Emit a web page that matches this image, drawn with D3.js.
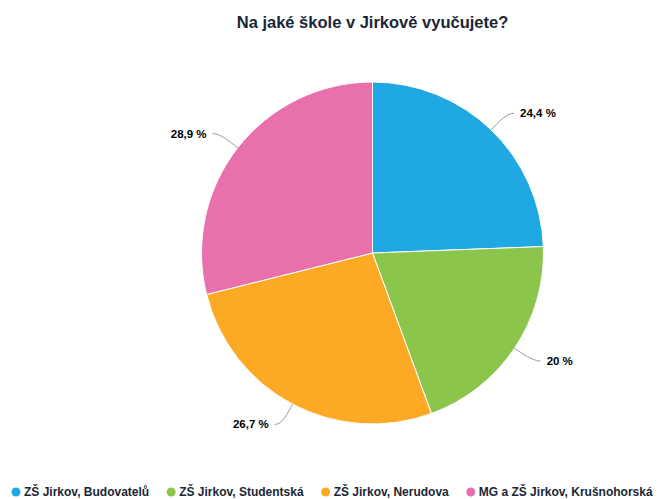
<!DOCTYPE html>
<html>
<head>
<meta charset="utf-8">
<script src="https://cdn.jsdelivr.net/npm/d3@7/dist/d3.min.js"></script>
<style>
  html, body { margin: 0; padding: 0; background: #fff; }
  svg { display: block; }
</style>
</head>
<body>
<svg id="chart" width="670" height="499"></svg>
<script>
const title = "Na jaké škole v Jirkově vyučujete?";
const categories = ["ZŠ Jirkov, Budovatelů", "ZŠ Jirkov, Studentská", "ZŠ Jirkov, Nerudova", "MG a ZŠ Jirkov, Krušnohorská"];
const values = [24.4, 20, 26.7, 28.9];
const labels = ["24,4 %", "20 %", "26,7 %", "28,9 %"];
const colors = ["#1fa8e1", "#8bc54b", "#fcaa25", "#e770ad"];

const svg = d3.select("#chart");
const cx = 372.5, cy = 253, R = 171;
const labelR = 194, labelPad = 13;

svg.append("text")
  .attr("x", cx).attr("y", 28)
  .attr("text-anchor", "middle")
  .style("font-family", "'Liberation Sans', Arial, sans-serif")
  .style("font-weight", "bold")
  .style("font-size", "16.5px")
  .style("fill", "#1a2636")
  .text(title);

const pie = d3.pie().sort(null).value(d => d)(values);
const arc = d3.arc().innerRadius(0).outerRadius(R);

const g = svg.append("g").attr("transform", `translate(${cx},${cy})`);

g.selectAll("path.slice").data(pie).join("path")
  .attr("class", "slice")
  .attr("d", arc)
  .attr("fill", (d, i) => colors[i])
  .attr("stroke", "#fff")
  .attr("stroke-width", 1);

// data labels with soft connectors
pie.forEach((d, i) => {
  const a = (d.startAngle + d.endAngle) / 2;
  const ex = R * Math.sin(a), ey = -R * Math.cos(a);
  const right = Math.sin(a) >= 0;
  const side = right ? 1 : -1;
  const ly = -labelR * Math.cos(a);
  const lxBase = side * Math.sqrt(Math.max(0, labelR * labelR - ly * ly));
  const lx = lxBase + side * labelPad;
  const anchorX = lx - side * 6;
  const ox = (R + 10) * Math.sin(a), oy = -(R + 10) * Math.cos(a);
  g.append("path")
    .attr("d", `M${anchorX},${ly} C${anchorX - side * 8},${ly} ${ox},${oy} ${ex},${ey}`)
    .attr("fill", "none")
    .attr("stroke", "#9a9a9a")
    .attr("stroke-width", 1);
  g.append("text")
    .attr("x", lx).attr("y", ly)
    .attr("dy", "0.35em")
    .attr("text-anchor", right ? "start" : "end")
    .style("font-family", "'Liberation Sans', Arial, sans-serif")
    .style("font-weight", "bold")
    .style("font-size", "11.5px")
    .style("fill", "#000")
    .text(labels[i]);
});

// legend
const legend = svg.append("g").attr("transform", "translate(0,492)");
let x = 16;
categories.forEach((c, i) => {
  const item = legend.append("g");
  item.append("circle").attr("cx", x).attr("cy", 0).attr("r", 4.5).attr("fill", colors[i]);
  const t = item.append("text")
    .attr("x", x + 8).attr("y", 0).attr("dy", "0.35em")
    .style("font-family", "'Liberation Sans', Arial, sans-serif")
    .style("font-weight", "bold")
    .style("font-size", "12px")
    .style("fill", "#1a2636")
    .text(c);
  x = x + 8 + t.node().getComputedTextLength() + 22;
});
</script>
</body>
</html>
